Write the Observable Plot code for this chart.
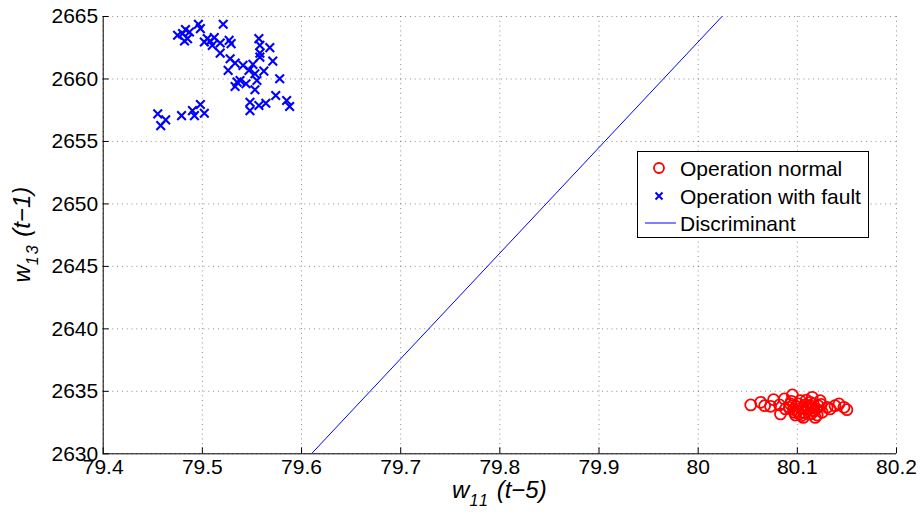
<!DOCTYPE html>
<html><head><meta charset="utf-8">
<script src="https://cdn.jsdelivr.net/npm/d3@7"></script>
<script src="https://cdn.jsdelivr.net/npm/@observablehq/plot@0.6"></script>
<style>
html,body{margin:0;padding:0;background:#fff;}
#chart{width:920px;height:516px;overflow:hidden;}
</style></head><body><div id="chart"></div>
<script>
const xTicks = [79.4, 79.5, 79.6, 79.7, 79.8, 79.9, 80, 80.1, 80.2];
const yTicks = [2630, 2635, 2640, 2645, 2650, 2655, 2660, 2665];

const normalX = [80.053, 80.063, 80.067, 80.073, 80.076, 80.082, 80.087, 80.088, 80.095, 80.093,
  80.097, 80.103, 80.105, 80.106, 80.110, 80.113, 80.115, 80.117, 80.118, 80.121,
  80.123, 80.125, 80.130, 80.133, 80.138, 80.142, 80.147, 80.150, 80.099, 80.108,
  80.112, 80.102, 80.083, 80.092,
  80.096, 80.100, 80.104, 80.107, 80.111, 80.114, 80.116, 80.119, 80.101, 80.109,
  80.113, 80.098, 80.120, 80.124, 80.094];
const normalY = [2633.91, 2634.12, 2633.85, 2633.80, 2634.33, 2633.91, 2634.39, 2633.59, 2634.71, 2633.99,
  2633.32, 2634.25, 2633.72, 2632.91, 2633.59, 2634.12, 2634.52, 2633.45, 2632.91, 2633.85,
  2634.25, 2633.32, 2633.72, 2633.59, 2633.85, 2633.99, 2633.72, 2633.53, 2633.80, 2633.91,
  2633.19, 2633.19, 2633.19, 2633.72,
  2633.55, 2633.40, 2633.05, 2633.30, 2633.75, 2633.20, 2634.00, 2633.60, 2634.00, 2634.30,
  2633.85, 2633.10, 2633.10, 2633.95, 2634.20];

const faultX = [79.496, 79.521, 79.498, 79.475, 79.480, 79.483, 79.487, 79.482, 79.485, 79.502,
  79.505, 79.508, 79.512, 79.510, 79.518, 79.527, 79.529, 79.518, 79.557, 79.558,
  79.568, 79.558, 79.558, 79.571, 79.528, 79.533, 79.526, 79.541, 79.551, 79.547,
  79.553, 79.562, 79.555, 79.578, 79.535, 79.538, 79.533, 79.544, 79.553, 79.574,
  79.585, 79.588, 79.548, 79.548, 79.557, 79.564, 79.455, 79.463, 79.458, 79.479,
  79.490, 79.492, 79.498, 79.502];
const faultY = [2664.38, 2664.38, 2664.03, 2663.50, 2663.63, 2663.95, 2663.76, 2663.04, 2663.23, 2662.96,
  2663.23, 2663.04, 2663.31, 2662.69, 2662.88, 2663.09, 2662.83, 2662.07, 2663.23, 2662.69,
  2662.51, 2662.07, 2661.75, 2661.43, 2661.62, 2661.27, 2660.69, 2661.09, 2661.17, 2660.69,
  2660.42, 2660.63, 2659.88, 2660.02, 2659.75, 2659.88, 2659.40, 2659.62, 2659.14, 2658.68,
  2658.28, 2657.80, 2658.14, 2657.47, 2657.88, 2658.06, 2657.21, 2656.73, 2656.27, 2657.07,
  2657.47, 2657.07, 2657.96, 2657.26];

const discX = [79.61, 80.024];
const discY = [2630, 2665];

const legendLabels = ["Operation normal", "Operation with fault", "Discriminant"];

const normal = normalX.map((x, i) => ({x, y: normalY[i]}));
const fault = faultX.map((x, i) => ({x, y: faultY[i]}));
const disc = discX.map((x, i) => ({x, y: discY[i]}));

const font = "'Liberation Sans', Arial, Helvetica, sans-serif";
const gridStyle = {stroke: "#000", strokeOpacity: 0.45, strokeDasharray: "1,3.8", strokeWidth: 1};

const chart = Plot.plot({
  width: 920, height: 516,
  marginLeft: 102.7, marginRight: 24, marginTop: 16, marginBottom: 62.7,
  style: {fontFamily: font, fontSize: "21px", background: "#fff", color: "#000", overflow: "visible"},
  x: {domain: [79.4, 80.2], label: null},
  y: {domain: [2630, 2665], label: null},
  marks: [
    Plot.gridX(xTicks, gridStyle),
    Plot.gridY(yTicks, gridStyle),
    Plot.line(disc, {x: "x", y: "y", stroke: "#0000ff", strokeWidth: 1, clip: true}),
    Plot.dot(normal, {x: "x", y: "y", r: 5.5, stroke: "#ff0000", strokeWidth: 1.8}),
    Plot.dot(fault, {x: "x", y: "y", symbol: "times", r: 4, stroke: "#0000ff", strokeWidth: 2.1}),
    Plot.ruleX([79.4], {stroke: "#000", strokeWidth: 1}),
    Plot.ruleY([2630], {stroke: "#000", strokeWidth: 1}),
    Plot.axisX(xTicks, {tickSize: 0, tickPadding: 5, tickFormat: d => String(d), fontSize: 21}),
    Plot.axisX(xTicks, {tickSize: -6, text: null}),
    Plot.axisY(yTicks, {tickSize: 0, tickPadding: 5, tickFormat: d => String(d), fontSize: 21}),
    Plot.axisY(yTicks, {tickSize: -6, text: null})
  ]
});

document.getElementById("chart").appendChild(chart);

const svg = d3.select(chart);
const sx = chart.scale("x"), sy = chart.scale("y");
const cx = (sx.range[0] + sx.range[1]) / 2;
const cy = (sy.range[0] + sy.range[1]) / 2;

function axisLabel(g, main, sub, rest) {
  const t = g.append("text")
    .attr("font-family", font).attr("font-style", "italic").attr("font-size", 24)
    .attr("text-anchor", "middle").attr("fill", "#000");
  t.append("tspan").text(main);
  t.append("tspan").attr("font-size", 16).attr("dy", 8).attr("letter-spacing", 2).text(sub);
  t.append("tspan").attr("dy", -8).text(" " + rest);
  return t;
}
axisLabel(svg.append("g").attr("transform", `translate(${cx},498)`), "w", "11", "(t\u22125)");
axisLabel(svg.append("g").attr("transform", `translate(30,${cy}) rotate(-90)`), "w", "13", "(t\u22121)");

// legend
const lg = svg.append("g").attr("font-family", font).attr("font-size", 21).attr("text-anchor", "start");
lg.append("rect").attr("x", 637.5).attr("y", 151.5).attr("width", 231).attr("height", 86)
  .attr("fill", "#fff").attr("stroke", "#000").attr("stroke-width", 1);
const rowY = [168, 196, 223];
lg.append("circle").attr("cx", 659).attr("cy", rowY[0]).attr("r", 5)
  .attr("fill", "none").attr("stroke", "#ff0000").attr("stroke-width", 1.8);
lg.append("path").attr("d", `M${655.5},${rowY[1]-3.5}L${662.5},${rowY[1]+3.5}M${655.5},${rowY[1]+3.5}L${662.5},${rowY[1]-3.5}`)
  .attr("stroke", "#0000ff").attr("stroke-width", 2);
lg.append("line").attr("x1", 645).attr("x2", 676).attr("y1", rowY[2]).attr("y2", rowY[2])
  .attr("stroke", "#0000ff").attr("stroke-width", 1);
legendLabels.forEach((s, i) => {
  lg.append("text").attr("x", 680).attr("y", rowY[i] + 7.5).attr("text-anchor", "start").attr("fill", "#000").text(s);
});
</script>
</body></html>
